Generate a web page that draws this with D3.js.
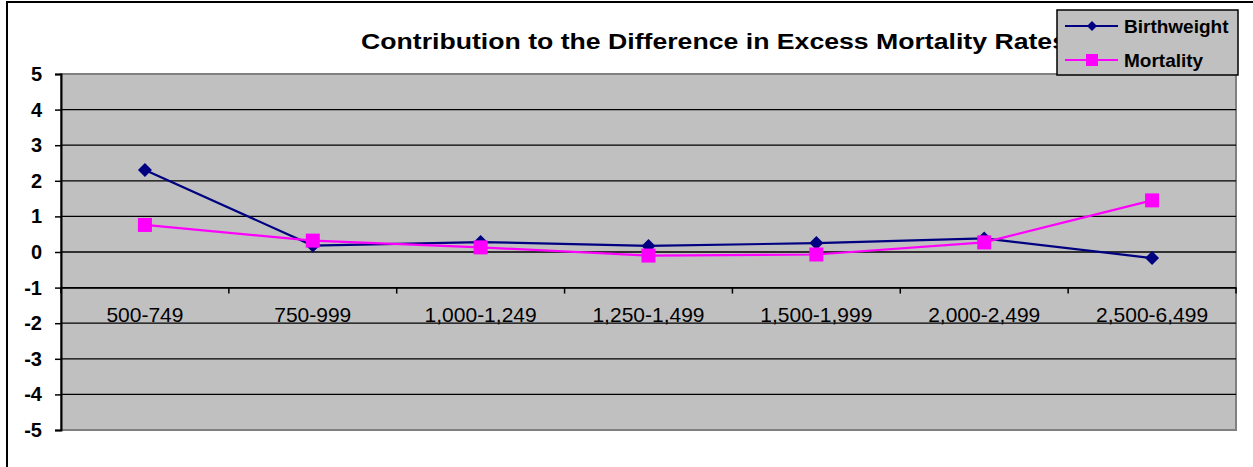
<!DOCTYPE html>
<html>
<head>
<meta charset="utf-8">
<script src="https://cdn.jsdelivr.net/npm/d3@7"></script>
<style>
  html, body { margin: 0; padding: 0; background: #fff; }
  svg { display: block; font-family: Arial, "Liberation Sans", sans-serif; }
</style>
</head>
<body>
<svg id="chart" width="1253" height="467"></svg>
<script>
// Weight classes (grams)
const categories = ["500-749", "750-999", "1,000-1,249", "1,250-1,499", "1,500-1,999", "2,000-2,499", "2,500-6,499"];
// Contribution of each component to the difference in excess mortality rates
const birthweight = [2.30, 0.18, 0.28, 0.17, 0.25, 0.38, -0.17];
const mortality = [0.76, 0.32, 0.13, -0.10, -0.07, 0.27, 1.45];
const yTicks = [5, 4, 3, 2, 1, 0, -1, -2, -3, -4, -5];
const seriesNames = ["Birthweight", "Mortality"];
const seriesColors = ["#000080", "#FF00FF"];
const titleText = "Contribution to the Difference in Excess Mortality Rates";

const svg = d3.select("#chart");
const plot = { left: 61, right: 1236, top: 74, bottom: 430 };

const x = d3.scaleBand().domain(categories).range([plot.left, plot.right]).padding(0);
const y = d3.scaleLinear().domain([-5, 5]).range([plot.bottom, plot.top]);

// outer chart frame
svg.append("rect")
  .attr("x", 7).attr("y", 2).attr("width", 1300).attr("height", 520)
  .attr("fill", "#fff").attr("stroke", "#000").attr("stroke-width", 2);

// plot area
svg.append("rect")
  .attr("x", plot.left).attr("y", plot.top)
  .attr("width", plot.right - plot.left).attr("height", plot.bottom - plot.top)
  .attr("fill", "#C0C0C0").attr("stroke", "#808080").attr("stroke-width", 2);

// horizontal gridlines
svg.append("g").selectAll("line")
  .data(yTicks.filter(d => d !== 5 && d !== -5))
  .join("line")
  .attr("x1", plot.left).attr("x2", plot.right)
  .attr("y1", d => y(d)).attr("y2", d => y(d))
  .attr("stroke", "#000").attr("stroke-width", 1.3);

// value axis
const yAxis = d3.axisLeft(y).tickValues(yTicks).tickSize(6).tickPadding(13).tickFormat(d3.format("d"));
const gy = svg.append("g").attr("transform", `translate(${plot.left},0)`).call(yAxis);
gy.select(".domain").attr("stroke", "#000").attr("stroke-width", 2);
gy.selectAll(".tick line").attr("stroke", "#000").attr("stroke-width", 1.5);
gy.selectAll(".tick text")
  .attr("font-size", 20).attr("font-weight", "bold").attr("fill", "#000")
  .attr("font-family", "Arial, 'Liberation Sans', sans-serif")
  .text(d => d < 0 ? "-" + Math.abs(d) : d);

// category axis crossing the value axis at -1
const xAxis = d3.axisBottom(x).tickSize(0).tickPadding(0);
const gx = svg.append("g").attr("transform", `translate(0,${y(-1)})`).call(xAxis);
gx.select(".domain").attr("stroke", "#000").attr("stroke-width", 1.5);
gx.selectAll(".tick text").remove();
gx.selectAll(".tick line").remove();
// tick marks between categories
const boundaries = categories.map(c => x(c)).concat([x(categories[categories.length - 1]) + x.bandwidth()]);
gx.selectAll(".sep").data(boundaries).join("line")
  .attr("class", "sep")
  .attr("x1", d => d).attr("x2", d => d)
  .attr("y1", 0).attr("y2", 6)
  .attr("stroke", "#000").attr("stroke-width", 1.5);
gx.selectAll(".cat").data(categories).join("text")
  .attr("class", "cat")
  .attr("x", d => x(d) + x.bandwidth() / 2)
  .attr("y", 34)
  .attr("text-anchor", "middle")
  .attr("font-size", 21)
  .attr("fill", "#000")
  .attr("font-family", "Arial, 'Liberation Sans', sans-serif")
  .text(d => d);

// series
const cx = d => x(d) + x.bandwidth() / 2;
const line = d3.line().x(d => cx(d.cat)).y(d => y(d.v));
const series = [birthweight, mortality].map((vals, i) => ({
  name: seriesNames[i],
  color: seriesColors[i],
  points: vals.map((v, j) => ({ cat: categories[j], v }))
}));

series.forEach(s => {
  svg.append("path")
    .datum(s.points)
    .attr("d", line)
    .attr("fill", "none")
    .attr("stroke", s.color)
    .attr("stroke-width", 2.2);
});
// diamonds
svg.append("g").selectAll("path")
  .data(series[0].points)
  .join("path")
  .attr("transform", d => `translate(${cx(d.cat)},${y(d.v)})`)
  .attr("d", "M0,-7L7,0L0,7L-7,0Z")
  .attr("fill", seriesColors[0]);
// squares
svg.append("g").selectAll("rect")
  .data(series[1].points)
  .join("rect")
  .attr("x", d => cx(d.cat) - 7).attr("y", d => y(d.v) - 7)
  .attr("width", 14).attr("height", 14)
  .attr("fill", seriesColors[1]);

// title
svg.append("text")
  .attr("x", 361).attr("y", 49)
  .attr("font-size", 22).attr("font-weight", "bold").attr("fill", "#000")
  .attr("textLength", 706).attr("lengthAdjust", "spacingAndGlyphs")
  .text(titleText);

// legend
const lg = svg.append("g").attr("transform", "translate(1057,10)");
lg.append("rect").attr("width", 181).attr("height", 65)
  .attr("fill", "#C0C0C0").attr("stroke", "#000").attr("stroke-width", 1.5);
const items = lg.selectAll(".item").data(series).join("g")
  .attr("class", "item")
  .attr("transform", (d, i) => `translate(0,${16 + i * 34})`);
items.append("line").attr("x1", 8).attr("x2", 61).attr("y1", 0).attr("y2", 0)
  .attr("stroke", d => d.color).attr("stroke-width", 2);
items.filter((d, i) => i === 0).append("path")
  .attr("transform", "translate(35,0)")
  .attr("d", "M0,-5L5,0L0,5L-5,0Z").attr("fill", d => d.color);
items.filter((d, i) => i === 1).append("rect")
  .attr("x", 29).attr("y", -6).attr("width", 12).attr("height", 12)
  .attr("fill", d => d.color);
items.append("text").attr("x", 67).attr("y", 7)
  .attr("font-size", 19).attr("font-weight", "bold").attr("fill", "#000")
  .text(d => d.name);
</script>
</body>
</html>
